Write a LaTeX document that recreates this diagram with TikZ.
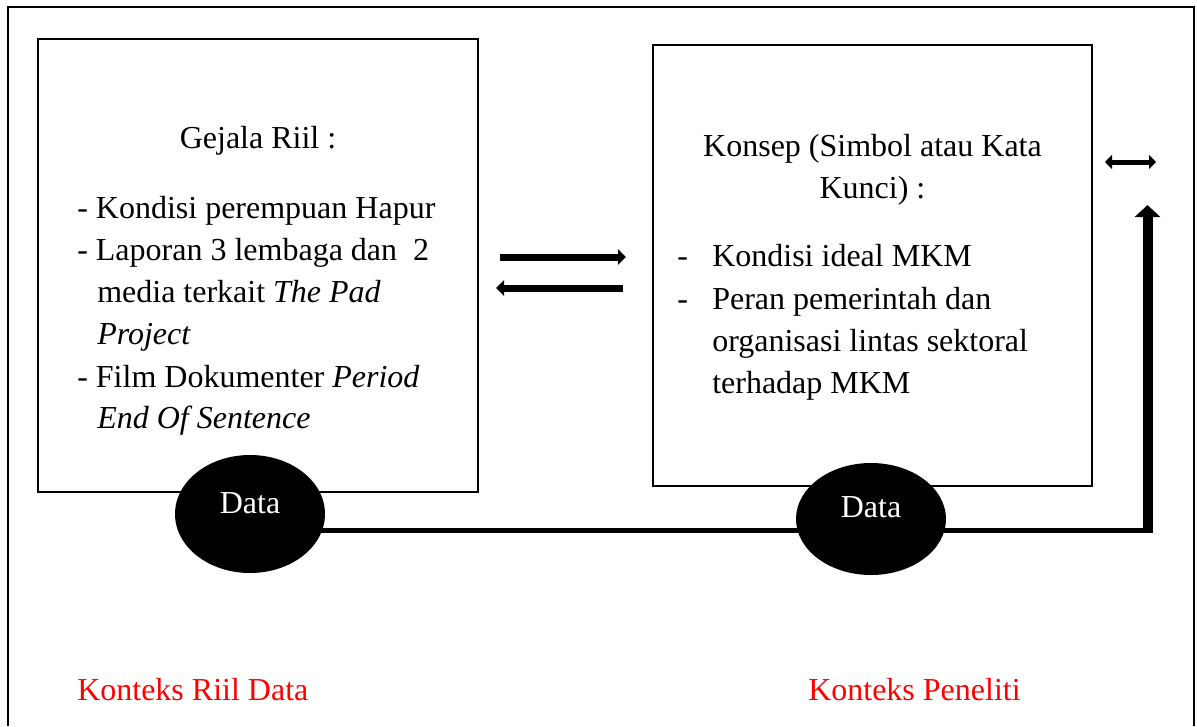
\documentclass[tikz,border=0pt]{standalone}
\usepackage{fontspec}
\setmainfont{Liberation Serif}
\usetikzlibrary{arrows.meta}
\usetikzlibrary{backgrounds}
\usetikzlibrary{shapes.geometric}

\begin{document}
\begin{tikzpicture}[x=0.75pt,y=-0.75pt,
    every node/.style={font=\fontsize{24}{31.5}\selectfont, inner sep=0pt},
    txtline/.style={anchor=base west},
    txtmid/.style={anchor=base},
    boxframe/.style={draw, line width=1.5pt},
    datanode/.style={ellipse, fill=black, minimum width=112.5pt},
    datatext/.style={text=white, anchor=base},
    redlabel/.style={anchor=base west, text=red}]
              \useasboundingbox (0,0) rectangle (1197,726);
              \draw[line width=1.5pt] (8,726) -- (8,7) -- (1194,7) -- (1194,726);
              % kotak kiri dan kanan
              \node[boxframe, minimum width=330pt, minimum height=339.75pt] (gejala) at (258,265.5) {};
              \node[boxframe, minimum width=329.25pt, minimum height=330.75pt] (konsep) at (872.5,265.5) {};
              \node[txtmid] (gejalaT) at (258,148) {Gejala Riil :};
              \node[txtline] (gejalaA) at (77,218) {- Kondisi perempuan Hapur};
              \node[txtline] (gejalaB) at (77,260) {- Laporan 3 lembaga dan\ \ 2};
              \node[txtline] (gejalaC) at (97,302) {media terkait \textit{The Pad}};
              \node[txtline] (gejalaD) at (97,344) {\textit{Project}};
              \node[txtline] (gejalaE) at (77,387) {- Film Dokumenter \textit{Period}};
              \node[txtline] (gejalaF) at (97,428) {\textit{End Of Sentence}};
              \node[txtmid] (konsepT) at (872.5,156) {Konsep (Simbol atau Kata};
              \node[txtmid] (konsepU) at (872.5,198) {Kunci) :};
              \node[txtline] (dashA) at (677,266) {-};
              \node[txtline] (konsepA) at (712,266) {Kondisi ideal MKM};
              \node[txtline] (dashB) at (677,309) {-};
              \node[txtline] (konsepB) at (712,309) {Peran pemerintah dan};
              \node[txtline] (konsepC) at (712,351) {organisasi lintas sektoral};
              \node[txtline] (konsepD) at (712,393) {terhadap MKM};
              % data
              \node[datanode, minimum height=88.5pt] (dataL) at (250,514) {};
              \node[datanode, minimum height=84pt] (dataR) at (871,519) {};
              \node[datatext] (dataLtxt) at (250,513) {Data};
              \node[datatext] (dataRtxt) at (871,517) {Data};
              \coordinate (corner) at (1147.5,530.5);
              \coordinate (tip) at (1147.5,205);
              \begin{scope}[on background layer]
              \draw[line width=3.75pt] (dataL.center |- corner) -- ([xshift=3.75pt]corner);
              \draw[line width=7.5pt, -{Triangle[width=18.75pt, length=9pt]}] ([yshift=-1.9pt]corner) -- (tip);
              \end{scope}
              % panah tengah
              \coordinate (fwdA) at (500,257);
              \coordinate (fwdB) at (626,257);
              \coordinate (bwdA) at (623,288);
              \coordinate (bwdB) at (496,288);
              \draw[line width=5.25pt, -{Triangle[width=11.25pt, length=6pt]}] (fwdA) -- (fwdB);
              \draw[line width=5.25pt, -{Triangle[width=11.25pt, length=6pt]}] (bwdA) -- (bwdB);
              \coordinate (bothA) at (1105,162);
              \coordinate (bothB) at (1156,162);
              \draw[line width=3.75pt, {Triangle[width=10.5pt, length=5.25pt]}-{Triangle[width=10.5pt, length=5.25pt]}] (bothA) -- (bothB);
              % konteks
              \node[redlabel] (riil) at (77,700) {Konteks Riil Data};
              \node[redlabel] (peneliti) at (808,700) {Konteks Peneliti};
\end{tikzpicture}
\end{document}
